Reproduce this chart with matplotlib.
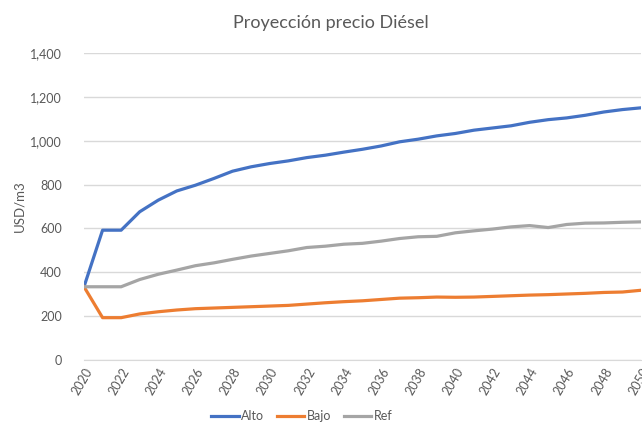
import matplotlib
matplotlib.use("Agg")
import matplotlib.pyplot as plt
from matplotlib.ticker import FuncFormatter

plt.rcParams['font.family'] = ['Lato', 'DejaVu Sans']

years = list(range(2020, 2051))
alto = [334, 592, 592, 676, 729, 771, 797, 828, 861, 881, 896, 908, 923, 934, 948,
        961, 976, 995, 1007, 1022, 1033, 1048, 1058, 1068, 1084, 1096, 1104, 1116,
        1131, 1142, 1150]
bajo = [334, 193, 193, 210, 220, 228, 234, 237, 240, 243, 246, 249, 255, 261, 266,
        270, 276, 282, 284, 287, 286, 287, 290, 293, 296, 298, 301, 304, 308, 310, 318]
ref = [334, 334, 334, 367, 391, 410, 430, 443, 459, 474, 486, 498, 513, 519, 528,
       532, 542, 554, 562, 564, 580, 589, 597, 607, 613, 604, 618, 624, 625, 628, 630]

txt = '#595959'
fig = plt.figure(figsize=(6.42, 4.24), dpi=100)
ax = fig.add_axes([84 / 642, 64 / 424, 557 / 642, 307 / 424])

ax.plot(years, alto, color='#4472C4', lw=2.3, label='Alto', solid_joinstyle='round')
ax.plot(years, bajo, color='#ED7D31', lw=2.3, label='Bajo', solid_joinstyle='round')
ax.plot(years, ref, color='#A5A5A5', lw=2.3, label='Ref', solid_joinstyle='round')

ax.set_xlim(2020, 2050)
ax.set_ylim(0, 1400)
ax.set_yticks(range(0, 1401, 200))
ax.yaxis.set_major_formatter(FuncFormatter(lambda v, p: f'{int(v):,}'))
ax.set_xticks(range(2020, 2051, 2))
ax.grid(axis='y', color='#D9D9D9', lw=1)
ax.set_axisbelow(True)
for s in ['top', 'right', 'left']:
    ax.spines[s].set_visible(False)
ax.spines['bottom'].set_color('#D9D9D9')
ax.tick_params(length=0, colors=txt, labelsize=9)
ax.tick_params(axis='y', pad=16)
ax.tick_params(axis='x', pad=4)
for lab in ax.get_xticklabels():
    lab.set_rotation(60)
    lab.set_ha('right')
    lab.set_rotation_mode('anchor')

ax.set_ylabel('USD/m3', color=txt, fontsize=9.5, labelpad=3)
fig.text(0.515, 0.945, 'Proyección precio Diésel', ha='center', va='center',
         color=txt, fontsize=13)

fig.legend(loc='center', bbox_to_anchor=(0.47, 0.018), ncol=3, frameon=False,
           fontsize=9, labelcolor=txt, handlelength=2.2, handletextpad=0.2,
           columnspacing=1.0)

fig.savefig('out.png', dpi=100)
